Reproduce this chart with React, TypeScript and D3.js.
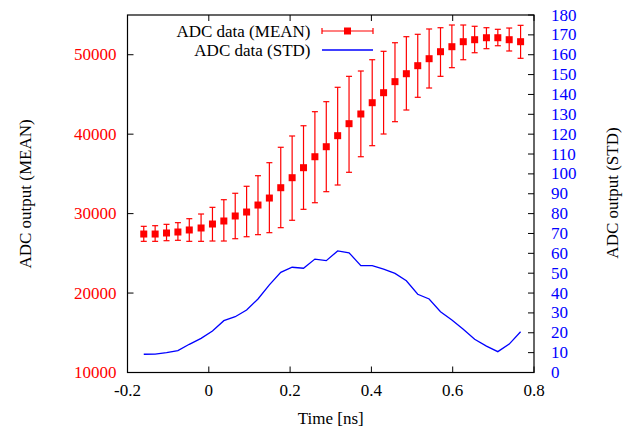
import React, { useRef, useEffect } from 'react';
import * as d3 from 'd3';

const W = 625;
const H = 430;
const FONT = '"Liberation Serif", "Times New Roman", serif';

// time [ns] of each sample
const times = [
  -0.160, -0.132, -0.104, -0.076, -0.048, -0.019, 0.009, 0.037, 0.065, 0.093,
  0.121, 0.149, 0.177, 0.205, 0.233, 0.261, 0.289, 0.317, 0.345, 0.374,
  0.402, 0.430, 0.458, 0.486, 0.514, 0.542, 0.570, 0.598, 0.626, 0.654,
  0.683, 0.711, 0.739, 0.767
];

const meanValues = [
  27430, 27430, 27560, 27685, 27940, 28190, 28690, 29070, 29700, 30200,
  31080, 31960, 33260, 34520, 35780, 37160, 38420, 39810, 41320, 42540,
  43960, 45220, 46610, 47610, 48620, 49500, 50380, 51010, 51640, 51890,
  52140, 52140, 51890, 51640
];

const meanLow = [
  26510, 26510, 26590, 26640, 26510, 26510, 26550, 26550, 26840, 27090,
  27350, 27600, 28230, 29160, 30540, 31370, 32760, 33600, 35200, 37160,
  38550, 40020, 41570, 43040, 44640, 45810, 47280, 48370, 49370, 50250,
  50760, 51130, 50470, 49550
];

const meanHigh = [
  28400, 28480, 28650, 28860, 29360, 29950, 30790, 31750, 32560, 33440,
  34770, 36410, 38350, 39770, 41060, 42830, 44090, 45900, 47280, 47950,
  49370, 50430, 51510, 52270, 52570, 53240, 53400, 53740, 53740, 53580,
  53400, 53200, 53360, 53700
];

const stdValues = [
  9.2, 9.3, 10.0, 11.0, 14.2, 17.2, 20.9, 26.1, 28.1, 31.5,
  37.0, 44.1, 50.4, 53.0, 52.5, 57.1, 56.3, 61.2, 60.3, 53.8,
  53.8, 52.0, 49.9, 46.2, 39.4, 37.0, 30.6, 26.4, 21.8, 16.7,
  13.3, 10.5, 14.3, 20.5
];

const xTicks = [-0.2, 0, 0.2, 0.4, 0.6, 0.8];
const meanTicks = [10000, 20000, 30000, 40000, 50000];
const stdTicks = [0, 10, 20, 30, 40, 50, 60, 70, 80, 90, 100, 110, 120, 130, 140, 150, 160, 170, 180];

const ChartD3 = () => {
  const ref = useRef<SVGSVGElement>(null);

  useEffect(() => {
    document.body.style.margin = '0';
    const margin = { top: 15, right: 91, bottom: 57.5, left: 127.5 };
    const width = W - margin.left - margin.right;
    const height = H - margin.top - margin.bottom;

    const root = d3.select(ref.current);
    const svg = root.append('g')
      .attr('transform', `translate(${margin.left},${margin.top})`);

    const x = d3.scaleLinear().domain([-0.2, 0.8]).range([0, width]);
    const yMean = d3.scaleLinear().domain([10000, 55000]).range([height, 0]);
    const yStd = d3.scaleLinear().domain([0, 180]).range([height, 0]);

    const tickLen = 6;

    // bottom / top ticks
    xTicks.forEach(t => {
      svg.append('line').attr('x1', x(t)).attr('x2', x(t))
        .attr('y1', height).attr('y2', height - tickLen)
        .attr('stroke', '#000').attr('stroke-width', 1);
      svg.append('line').attr('x1', x(t)).attr('x2', x(t))
        .attr('y1', 0).attr('y2', tickLen)
        .attr('stroke', '#000').attr('stroke-width', 1);
      svg.append('text')
        .attr('x', x(t)).attr('y', height + 18)
        .attr('text-anchor', 'middle').attr('dominant-baseline', 'central')
        .attr('font-family', FONT).attr('font-size', 17).attr('fill', '#000')
        .text(String(t));
    });

    // left ticks (MEAN)
    meanTicks.forEach(v => {
      svg.append('line').attr('x1', 0).attr('x2', tickLen)
        .attr('y1', yMean(v)).attr('y2', yMean(v))
        .attr('stroke', '#000').attr('stroke-width', 1);
      svg.append('text')
        .attr('x', -11).attr('y', yMean(v))
        .attr('text-anchor', 'end').attr('dominant-baseline', 'central')
        .attr('font-family', FONT).attr('font-size', 17).attr('fill', '#ff0000')
        .text(v);
    });

    // right ticks (STD)
    stdTicks.forEach(v => {
      svg.append('line').attr('x1', width).attr('x2', width - tickLen)
        .attr('y1', yStd(v)).attr('y2', yStd(v))
        .attr('stroke', '#000').attr('stroke-width', 1);
      svg.append('text')
        .attr('x', width + 17).attr('y', yStd(v))
        .attr('text-anchor', 'start').attr('dominant-baseline', 'central')
        .attr('font-family', FONT).attr('font-size', 17).attr('fill', '#0000ff')
        .text(v);
    });

    // frame
    svg.append('rect')
      .attr('x', 0).attr('y', 0).attr('width', width).attr('height', height)
      .attr('fill', 'none').attr('stroke', '#000').attr('stroke-width', 1.2);

    // axis titles
    svg.append('text')
      .attr('transform', `translate(${25 - margin.left},${194 - margin.top}) rotate(-90)`)
      .attr('text-anchor', 'middle').attr('dominant-baseline', 'central')
      .attr('font-family', FONT).attr('font-size', 17).attr('fill', '#000')
      .text('ADC output (MEAN)');
    svg.append('text')
      .attr('transform', `translate(${612 - margin.left},${193 - margin.top}) rotate(-90)`)
      .attr('text-anchor', 'middle').attr('dominant-baseline', 'central')
      .attr('font-family', FONT).attr('font-size', 17).attr('fill', '#000')
      .text('ADC output (STD)');
    svg.append('text')
      .attr('x', width / 2).attr('y', height + 45.5)
      .attr('text-anchor', 'middle').attr('dominant-baseline', 'central')
      .attr('font-family', FONT).attr('font-size', 17).attr('fill', '#000')
      .text('Time [ns]');

    // error bars
    const cap = 3;
    const bars = svg.append('g').attr('stroke', '#ff0000').attr('stroke-width', 1.2);
    times.forEach((t, i) => {
      const cx = x(t);
      bars.append('line').attr('x1', cx).attr('x2', cx)
        .attr('y1', yMean(meanLow[i])).attr('y2', yMean(meanHigh[i]));
      bars.append('line').attr('x1', cx - cap).attr('x2', cx + cap)
        .attr('y1', yMean(meanLow[i])).attr('y2', yMean(meanLow[i]));
      bars.append('line').attr('x1', cx - cap).attr('x2', cx + cap)
        .attr('y1', yMean(meanHigh[i])).attr('y2', yMean(meanHigh[i]));
    });

    const sq = 7;
    svg.selectAll('rect.mean')
      .data(times)
      .enter().append('rect')
      .attr('class', 'mean')
      .attr('x', d => x(d) - sq / 2)
      .attr('y', (d, i) => yMean(meanValues[i]) - sq / 2)
      .attr('width', sq).attr('height', sq)
      .attr('fill', '#ff0000');

    // STD line
    const line = d3.line<number>()
      .x(d => x(d))
      .y((d, i) => yStd(stdValues[i]));
    svg.append('path')
      .datum(times)
      .attr('d', line)
      .attr('fill', 'none')
      .attr('stroke', '#0000ff')
      .attr('stroke-width', 1.3);

    // legend
    const lg = root.append('g');
    const rows = [
      { label: 'ADC data (MEAN)', y: 31 },
      { label: 'ADC data (STD)', y: 50 }
    ];
    rows.forEach(r => {
      lg.append('text')
        .attr('x', 310.5).attr('y', r.y)
        .attr('text-anchor', 'end').attr('dominant-baseline', 'central')
        .attr('font-family', FONT).attr('font-size', 17).attr('fill', '#000')
        .text(r.label);
    });
    const lx1 = 322, lx2 = 373;
    lg.append('line').attr('x1', lx1).attr('x2', lx2).attr('y1', 31).attr('y2', 31)
      .attr('stroke', '#ff0000').attr('stroke-width', 1.2);
    [lx1, lx2].forEach(px => {
      lg.append('line').attr('x1', px).attr('x2', px).attr('y1', 28).attr('y2', 34)
        .attr('stroke', '#ff0000').attr('stroke-width', 1.2);
    });
    lg.append('rect').attr('x', (lx1 + lx2) / 2 - sq / 2).attr('y', 31 - sq / 2)
      .attr('width', sq).attr('height', sq).attr('fill', '#ff0000');
    lg.append('line').attr('x1', lx1).attr('x2', lx2).attr('y1', 50).attr('y2', 50)
      .attr('stroke', '#0000ff').attr('stroke-width', 1.3);

    return () => {
      root.selectAll('*').remove();
    };
  }, []);

  return <svg ref={ref} width={W} height={H} style={{ display: 'block', background: '#fff' }}></svg>;
};

export default function App() {
  return <ChartD3 />;
}
